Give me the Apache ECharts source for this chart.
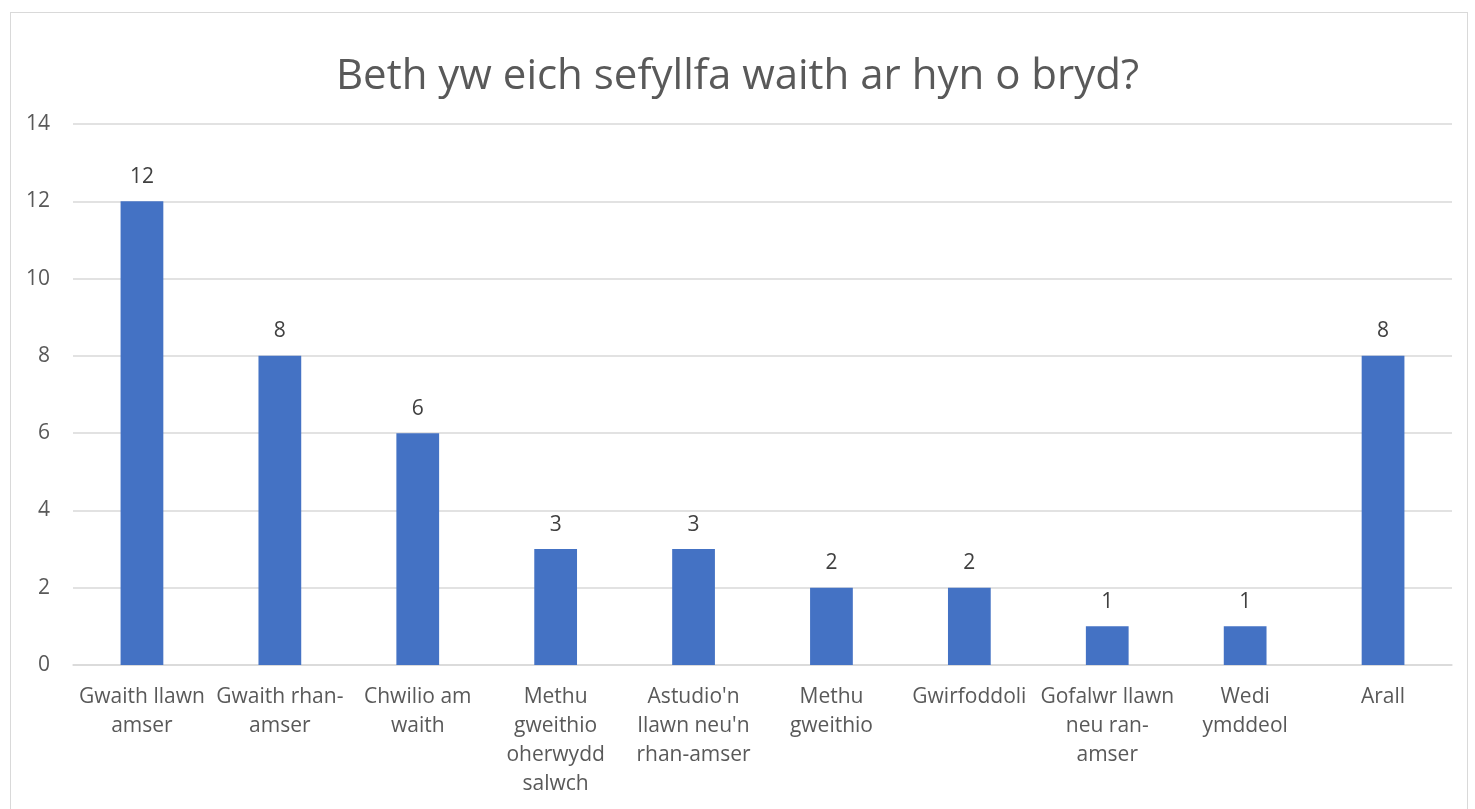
<!DOCTYPE html>
<html>
<head>
<meta charset="utf-8">
<script src="https://cdn.jsdelivr.net/npm/echarts@6/dist/echarts.min.js"></script>
<style>
html,body{margin:0;padding:0;background:#fff;}
#frame{position:absolute;left:10px;top:12px;width:1458px;height:810px;border:1px solid #d9d9d9;box-sizing:border-box;}
#chart{position:absolute;left:0;top:0;width:1475px;height:809px;}
</style>
</head>
<body>
<div id="frame"></div>
<div id="chart"></div>
<script>
const titleText = "Beth yw eich sefyllfa waith ar hyn o bryd?";
const categories = [
  "Gwaith llawn\namser",
  "Gwaith rhan-\namser",
  "Chwilio am\nwaith",
  "Methu\ngweithio\noherwydd\nsalwch",
  "Astudio'n\nllawn neu'n\nrhan-amser",
  "Methu\ngweithio",
  "Gwirfoddoli",
  "Gofalwr llawn\nneu ran-\namser",
  "Wedi\nymddeol",
  "Arall"
];
const values = [12, 8, 6, 3, 3, 2, 2, 1, 1, 8];
const yTicks = { min: 0, max: 14, interval: 2 };

const chart = echarts.init(document.getElementById('chart'), null, {renderer: 'canvas'});
chart.setOption({
  animation: false,
  title: {
    text: titleText,
    left: 'center',
    top: 51,
    textStyle: { fontFamily: 'Open Sans', fontWeight: 'normal', fontSize: 42, color: '#595959' }
  },
  grid: { left: 73, right: 23, top: 124, bottom: 144, containLabel: false },
  xAxis: {
    type: 'category',
    data: categories,
    axisLine: { show: true, lineStyle: { color: '#d9d9d9', width: 1.5 } },
    axisTick: { show: false },
    axisLabel: {
      interval: 0,
      margin: 18,
      color: '#595959',
      fontFamily: 'Open Sans',
      fontSize: 21,
      lineHeight: 29,
      align: 'center'
    }
  },
  yAxis: {
    type: 'value',
    min: yTicks.min,
    max: yTicks.max,
    interval: yTicks.interval,
    axisLine: { show: false },
    axisTick: { show: false },
    splitLine: { lineStyle: { color: '#d9d9d9', width: 1.5 } },
    axisLabel: { margin: 23, color: '#595959', fontFamily: 'Open Sans', fontSize: 21 }
  },
  series: [{
    type: 'bar',
    data: values,
    barWidth: '31%',
    itemStyle: { color: '#4472C4' },
    label: {
      show: true,
      position: 'top',
      distance: 14,
      color: '#404040',
      fontFamily: 'Open Sans',
      fontSize: 21
    }
  }]
});
</script>
</body>
</html>
